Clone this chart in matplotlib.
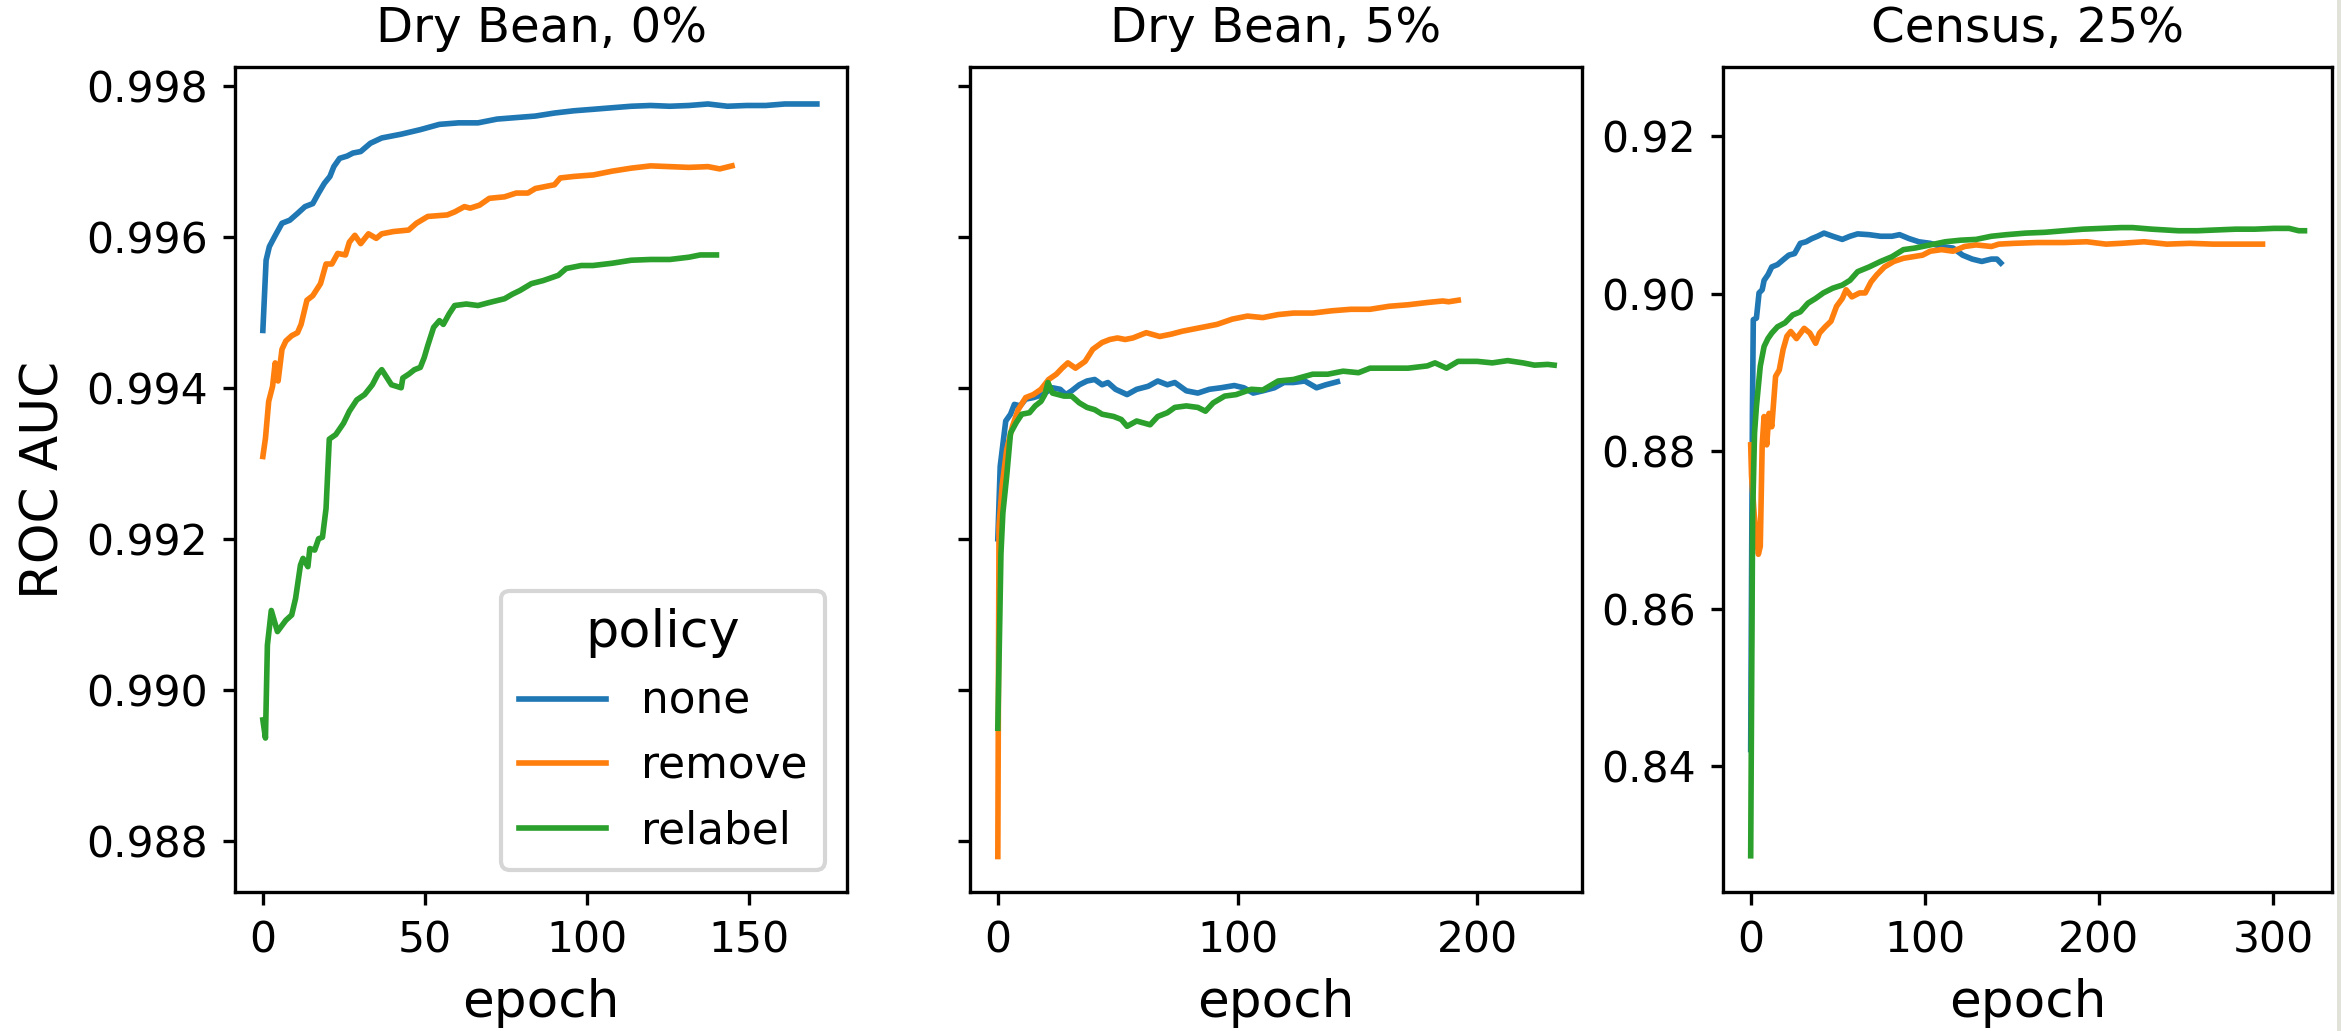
import matplotlib
matplotlib.use("Agg")
import matplotlib.pyplot as plt
from matplotlib.patches import Rectangle

# ---------------- data ----------------
policies = ["none", "remove", "relabel"]
colors = ["#1f77b4", "#ff7f0e", "#2ca02c"]
titles = ["Dry Bean, 0%", "Dry Bean, 5%", "Census, 25%"]

# Panel 1: Dry Bean, 0%
p1_none_x = [0, 1, 2, 3.6, 5.9, 8.3, 10.7, 13, 15.4, 17.2, 19, 20.7, 21.9, 23.7, 26, 27.8, 30.2,
             33.2, 36.7, 42.7, 48.6, 54.5, 60.4, 66.4, 72.3, 78.2, 84.1, 90, 96, 102, 107.8,
             113.7, 119.7, 125.6, 131.5, 137.4, 143.4, 149.3, 155.2, 161.1, 167, 171]
p1_none_y = [0.99476, 0.99569, 0.99587, 0.99600, 0.99618, 0.99622, 0.99631, 0.99640, 0.99644,
             0.99658, 0.99671, 0.99680, 0.99693, 0.99704, 0.99707, 0.99711, 0.99713, 0.99724,
             0.99731, 0.99736, 0.99742, 0.99749, 0.99751, 0.99751, 0.99756, 0.99758, 0.99760,
             0.99764, 0.99767, 0.99769, 0.99771, 0.99773, 0.99774, 0.99773, 0.99774, 0.99776,
             0.99773, 0.99774, 0.99774, 0.99776, 0.99776, 0.99776]

p1_remove_x = [0, 0.8, 1.8, 3, 3.8, 4.7, 5.9, 7.1, 8.9, 10.7, 11.8, 13.6, 15.4, 17.8, 19.5, 21.3,
               23.1, 25.5, 26.7, 28.4, 30.2, 32.6, 35, 36.7, 40.3, 45, 47.4, 50.9, 56.9, 59.2,
               62.2, 64, 66.9, 69.9, 74.6, 78.2, 81.8, 84.1, 90, 91.8, 96, 102, 107.8, 113.7,
               119.7, 125.6, 131.5, 137.4, 141, 144.8]
p1_remove_y = [0.99309, 0.99333, 0.99382, 0.99402, 0.99433, 0.99409, 0.99451, 0.99462, 0.99469,
               0.99473, 0.99484, 0.99516, 0.99522, 0.99538, 0.99564, 0.99564, 0.99578, 0.99576,
               0.99593, 0.99602, 0.99591, 0.99604, 0.99598, 0.99604, 0.99607, 0.99609, 0.99618,
               0.99627, 0.99629, 0.99633, 0.99640, 0.99638, 0.99642, 0.99651, 0.99653, 0.99658,
               0.99658, 0.99664, 0.99669, 0.99678, 0.99680, 0.99682, 0.99687, 0.99691, 0.99694,
               0.99693, 0.99692, 0.99693, 0.99690, 0.99694]

p1_relabel_x = [0, 0.8, 1.4, 2.6, 4.5, 7.1, 8.9, 10.1, 11.6, 12.4, 13.9, 14.5, 16, 17.2, 18.4,
                19.5, 20.5, 22.5, 24.9, 26.7, 29, 31.4, 33.8, 35.5, 36.7, 37.9, 39.7, 42.7,
                43.2, 45, 46.8, 48.6, 49.8, 50.9, 52.7, 54.5, 55.7, 57.5, 59.2, 62.8, 66.4,
                69.9, 74.6, 77, 79.4, 82.9, 86.5, 91.2, 93.6, 98.3, 101.9, 107.8, 113.7, 119.7,
                125.6, 131.5, 135, 140]
p1_relabel_y = [0.98960, 0.98936, 0.99059, 0.99105, 0.99077, 0.99092, 0.99099, 0.99121, 0.99165,
                0.99174, 0.99163, 0.99187, 0.99185, 0.99200, 0.99202, 0.99240, 0.99332, 0.99338,
                0.99353, 0.99369, 0.99384, 0.99391, 0.99404, 0.99418, 0.99424, 0.99416, 0.99404,
                0.99400, 0.99413, 0.99418, 0.99424, 0.99427, 0.99440, 0.99456, 0.99480, 0.99489,
                0.99484, 0.99498, 0.99509, 0.99511, 0.99509, 0.99513, 0.99518, 0.99524, 0.99529,
                0.99538, 0.99542, 0.99549, 0.99558, 0.99562, 0.99562, 0.99565, 0.99569, 0.99570,
                0.99570, 0.99573, 0.99576, 0.99576]

# Panel 2: Dry Bean, 5%
p2_none_x = [0, 1, 3.3, 5.3, 6.9, 9.3, 11.6, 14.8, 18.8, 22.8, 26, 28.4, 30.8, 34, 37.2, 40.4,
             43.5, 45.9, 49.1, 53.9, 57.9, 62.7, 66.7, 70.7, 73.8, 78.6, 83.4, 88.2, 93, 98.6,
             102.6, 106.5, 110.5, 115.3, 119.3, 123.3, 128, 132.9, 136.8, 141.6]
p2_none_y = [0.99200, 0.99296, 0.99356, 0.99365, 0.99378, 0.99376, 0.99385, 0.99387, 0.99391,
             0.99400, 0.99398, 0.99391, 0.99396, 0.99404, 0.99409, 0.99411, 0.99404, 0.99407,
             0.99398, 0.99391, 0.99398, 0.99402, 0.99409, 0.99404, 0.99407, 0.99396, 0.99393,
             0.99398, 0.99400, 0.99403, 0.99400, 0.99393, 0.99396, 0.99400, 0.99407, 0.99407,
             0.99409, 0.99400, 0.99404, 0.99408]

p2_remove_x = [0, 0.5, 1.8, 3.7, 6.1, 8.5, 11.6, 14.8, 18, 21.2, 24.4, 26.8, 29.2, 32.4, 36.4,
               39.6, 43.5, 46.7, 49.9, 53.1, 56.3, 61.9, 67.5, 72.2, 77, 83.4, 91.4, 97.8,
               104.1, 110.5, 116.9, 123.3, 131.3, 139.2, 147.2, 155.2, 163.2, 171.1, 179.1,
               185.5, 188, 192]
p2_remove_y = [0.98779, 0.99217, 0.99270, 0.99318, 0.99349, 0.99371, 0.99387, 0.99391, 0.99398,
               0.99411, 0.99418, 0.99426, 0.99433, 0.99426, 0.99435, 0.99451, 0.99460, 0.99464,
               0.99466, 0.99464, 0.99466, 0.99473, 0.99468, 0.99471, 0.99475, 0.99479, 0.99484,
               0.99491, 0.99495, 0.99493, 0.99497, 0.99499, 0.99499, 0.99502, 0.99504, 0.99504,
               0.99508, 0.99510, 0.99513, 0.99515, 0.99514, 0.99516]

p2_relabel_x = [0, 1.3, 2.1, 3.7, 5.3, 7.7, 10, 13.2, 15.6, 18, 19.6, 20.9, 22.8, 27.6, 30.8,
                34, 37.2, 40.4, 43.5, 48.3, 51.5, 53.9, 57.9, 63.5, 66.7, 70.7, 73.8, 78.6,
                83.4, 86.6, 89.8, 94.6, 99.4, 105.7, 110.5, 116.9, 123.3, 131.3, 137.6, 144,
                150.4, 155.2, 163.2, 171.1, 179.1, 182.3, 187.1, 191.9, 199.9, 206.2, 212.6,
                219, 223.8, 229.3, 232]
p2_relabel_y = [0.98949, 0.99180, 0.99234, 0.99283, 0.99340, 0.99354, 0.99365, 0.99367, 0.99376,
                0.99382, 0.99391, 0.99407, 0.99393, 0.99389, 0.99389, 0.99380, 0.99374, 0.99371,
                0.99365, 0.99362, 0.99358, 0.99349, 0.99356, 0.99351, 0.99362, 0.99367, 0.99374,
                0.99376, 0.99374, 0.99369, 0.99380, 0.99389, 0.99391, 0.99398, 0.99397, 0.99409,
                0.99411, 0.99418, 0.99418, 0.99422, 0.99420, 0.99426, 0.99426, 0.99426, 0.99429,
                0.99433, 0.99426, 0.99435, 0.99435, 0.99433, 0.99436, 0.99433, 0.99430, 0.99431,
                0.99430]

# Panel 3: Census, 25%
p3_none_x = [0, 1, 1.5, 3.3, 4.8, 6.6, 7.7, 9.9, 12.1, 15.4, 18.6, 21.9, 25.2, 28.5, 31.8, 35.1,
             38.4, 42.1, 47.1, 52.6, 57, 61.4, 68, 74.6, 81.1, 85.5, 91, 96.5, 103.1, 109.6,
             116.2, 121.7, 127.2, 132.7, 138.2, 141.4, 143.6]
p3_none_y = [0.8421, 0.8850, 0.8967, 0.8969, 0.9001, 0.9005, 0.9017, 0.9024, 0.9034, 0.9037,
             0.9043, 0.9049, 0.9051, 0.9064, 0.9066, 0.9070, 0.9073, 0.9077, 0.9073, 0.9069,
             0.9073, 0.9076, 0.9075, 0.9073, 0.9073, 0.9075, 0.9070, 0.9066, 0.9064, 0.9060,
             0.9058, 0.9049, 0.9044, 0.9041, 0.9044, 0.9044, 0.9039]

p3_remove_x = [0, 0.5, 2, 3, 4.4, 5.5, 6.6, 7.7, 9.2, 10.5, 12.1, 14.3, 16.4, 18.6, 20.8, 23,
               26.3, 30.7, 34, 37.3, 39.5, 42.8, 46.1, 49.3, 52.6, 54.8, 58.1, 62.5, 65.8,
               69.1, 72.4, 76.8, 82.2, 87.7, 93.2, 98.7, 103.1, 109.6, 116.2, 122.8, 129.4,
               138.2, 142.5, 151.3, 164.5, 179.8, 193, 204, 212.7, 225.9, 239, 252.2, 265.4,
               278.5, 293.9]
p3_remove_y = [0.8808, 0.8768, 0.8720, 0.8700, 0.8669, 0.8679, 0.8808, 0.8844, 0.8808, 0.8848,
               0.8831, 0.8895, 0.8903, 0.8929, 0.8946, 0.8952, 0.8943, 0.8956, 0.8950, 0.8937,
               0.8950, 0.8958, 0.8965, 0.8984, 0.8994, 0.9005, 0.8996, 0.9001, 0.9001, 0.9015,
               0.9024, 0.9034, 0.9041, 0.9045, 0.9047, 0.9049, 0.9054, 0.9056, 0.9054, 0.9060,
               0.9062, 0.9060, 0.9063, 0.9064, 0.9065, 0.9065, 0.9066, 0.9063, 0.9064, 0.9066,
               0.9063, 0.9064, 0.9063, 0.9063, 0.9063]

p3_relabel_x = [0, 1.1, 2.2, 3.3, 5.5, 7.7, 9.9, 12.1, 15.4, 19.7, 24.1, 28.5, 32.9, 37.3, 41.7,
                47.1, 52.6, 57, 61.4, 68, 74.6, 81.1, 87.7, 94.3, 103.1, 111.8, 120.6, 129.4,
                138.2, 146.9, 157.9, 168.9, 179.8, 190.8, 201.8, 212.7, 219.3, 230.3, 245.6,
                256.6, 267.5, 278.5, 289.5, 300.4, 309.2, 314.7, 318]
p3_relabel_y = [0.8286, 0.8717, 0.8823, 0.8857, 0.8908, 0.8933, 0.8943, 0.8950, 0.8958, 0.8963,
                0.8973, 0.8977, 0.8988, 0.8994, 0.9001, 0.9007, 0.9011, 0.9017, 0.9028, 0.9034,
                0.9041, 0.9047, 0.9056, 0.9058, 0.9062, 0.9066, 0.9068, 0.9069, 0.9073, 0.9075,
                0.9077, 0.9078, 0.9080, 0.9082, 0.9083, 0.9084, 0.9084, 0.9082, 0.9080, 0.9080,
                0.9081, 0.9082, 0.9082, 0.9083, 0.9083, 0.9080, 0.9080]

panels = [
    [(p1_none_x, p1_none_y), (p1_remove_x, p1_remove_y), (p1_relabel_x, p1_relabel_y)],
    [(p2_none_x, p2_none_y), (p2_remove_x, p2_remove_y), (p2_relabel_x, p2_relabel_y)],
    [(p3_none_x, p3_none_y), (p3_remove_x, p3_remove_y), (p3_relabel_x, p3_relabel_y)],
]

y_ticks_bean = [0.988, 0.990, 0.992, 0.994, 0.996, 0.998]
y_ticks_census = [0.84, 0.86, 0.88, 0.90, 0.92]
x_ticks = [[0, 50, 100, 150], [0, 100, 200], [0, 100, 200, 300]]

# ---------------- figure ----------------
W, H, DPI = 2341, 1031, 300
fig = plt.figure(figsize=(W / DPI, H / DPI), dpi=DPI)
plt.rcParams["font.family"] = "DejaVu Sans"

boxes_px = [(235, 847), (970, 1582), (1723, 2332)]
top_px, bot_px = 67, 892
axes = []
for i, (l, r) in enumerate(boxes_px):
    rect = [l / W, (H - bot_px) / H, (r - l) / W, (bot_px - top_px) / H]
    if i == 1:
        ax = fig.add_axes(rect, sharey=axes[0])
    else:
        ax = fig.add_axes(rect)
    axes.append(ax)

for i, ax in enumerate(axes):
    for (xs, ys), c, lab in zip(panels[i], colors, policies):
        ax.plot(xs, ys, color=c, lw=1.35, label=lab)
    ax.set_title(titles[i], fontsize=11.6)
    ax.set_xlabel("epoch", fontsize=12.4)
    ax.set_xticks(x_ticks[i])
    ax.tick_params(axis="both", labelsize=10.2, length=3.0, width=0.8)
    for s in ax.spines.values():
        s.set_linewidth(0.8)

axes[0].set_yticks(y_ticks_bean)
axes[0].set_ylim(0.98732, 0.99825)
axes[0].set_xlim(-8.6, 180.3)
axes[1].set_xlim(-11.6, 243.6)
axes[2].set_xlim(-15.9, 333.8)
axes[2].set_yticks(y_ticks_census)
axes[2].set_ylim(0.8240, 0.9288)
plt.setp(axes[1].get_yticklabels(), visible=False)
axes[0].set_ylabel("ROC AUC", fontsize=12.4)

leg = axes[0].legend(title="policy", loc="lower right", fontsize=10.5, title_fontsize=12.6)

# thin grey strip at the right edge of the original image
fig.patches.append(Rectangle((2337 / W, 0), 4 / W, 1, transform=fig.transFigure,
                             facecolor="#e1e3d9", edgecolor="none", zorder=-1))

fig.savefig("out.png", dpi=DPI)
